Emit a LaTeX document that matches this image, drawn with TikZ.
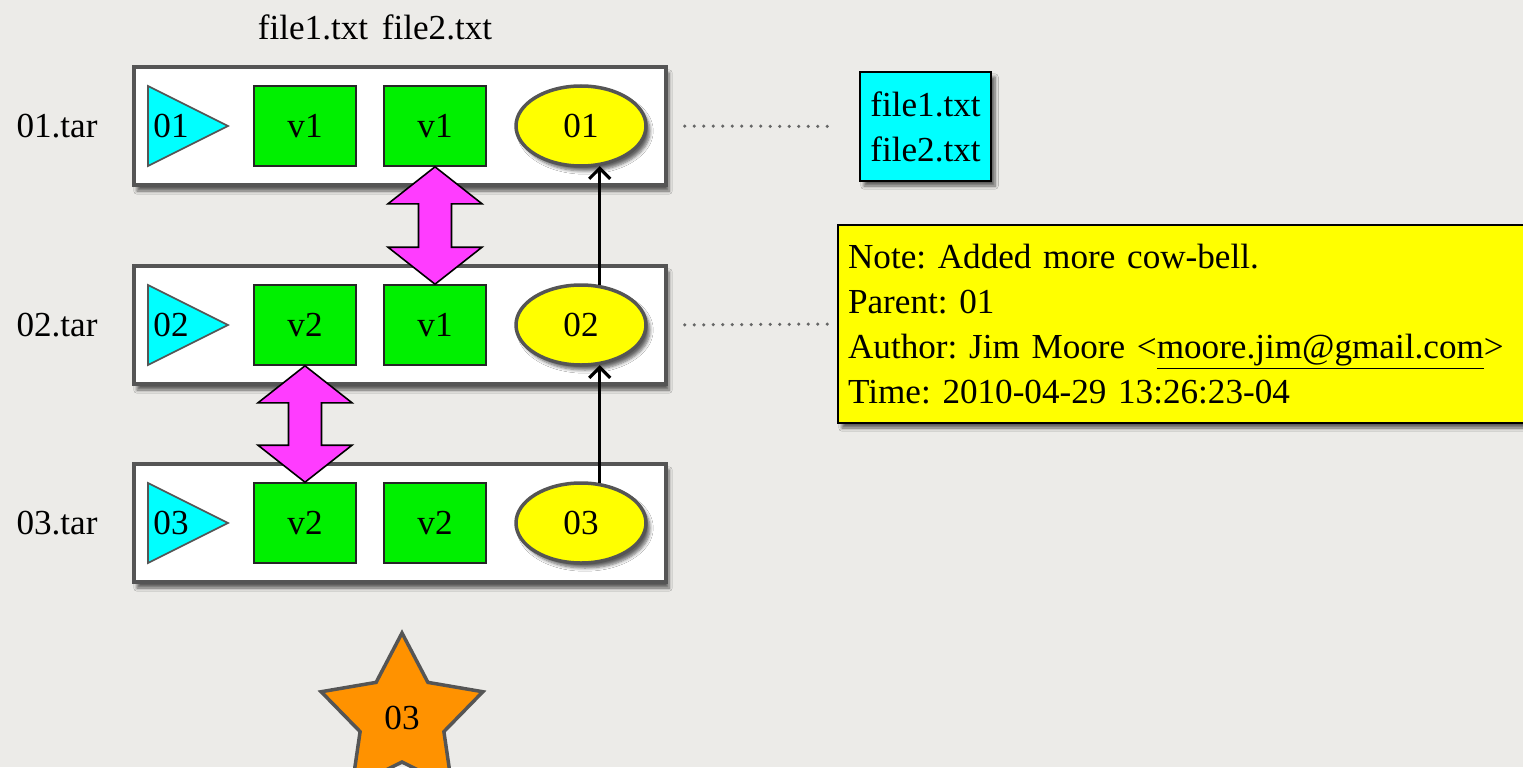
\documentclass[tikz,border=0pt]{standalone}
\usepackage{fontspec}
\setmainfont{Liberation Serif}
\usetikzlibrary{shapes.geometric,shadows.blur,arrows.meta,calc}
\definecolor{bgpaper}{RGB}{236,235,232}
\definecolor{edgegrey}{RGB}{85,85,85}
\definecolor{boxgreen}{RGB}{0,240,0}
\definecolor{tarcyan}{RGB}{0,255,255}
\definecolor{noteyellow}{RGB}{255,255,0}
\definecolor{swapmag}{RGB}{255,60,255}
\definecolor{starorange}{RGB}{255,146,0}
\def\pxu{0.02cm}
\frenchspacing
% magenta swap arrow from the box #1 down to the box #2
\newcommand\swaparrow[2]{%
 \filldraw[swap] (#1.south) -- ++(47,37) -- ++(-30.5,0) -- ($(#2.north)+(16.5,-37)$)
   -- ++(30.5,0) -- (#2.north) -- ++(-47,-37) -- ++(30.5,0)
   -- ($(#1.south)+(-16.5,37)$) -- ++(-30.5,0) -- cycle;}

\begin{document}
\begin{tikzpicture}[x=\pxu,y=-\pxu,font=\fontsize{20}{25.6}\selectfont,
 rowbox/.style={draw=edgegrey,line width=3.5*\pxu,fill=white,minimum width=532*\pxu,minimum height=118*\pxu,
   blur shadow={shadow xshift=3*\pxu,shadow yshift=-6*\pxu,shadow blur steps=6,shadow opacity=60}},
 filebox/.style={draw=black!85,line width=1.6*\pxu,fill=boxgreen,minimum width=102*\pxu,minimum height=80*\pxu,inner sep=0pt},
 commit/.style={ellipse,draw=edgegrey,line width=3.5*\pxu,fill=noteyellow,minimum width=130*\pxu,minimum height=80*\pxu,inner sep=0pt,
   blur shadow={shadow xshift=4*\pxu,shadow yshift=-5*\pxu,shadow blur steps=6,shadow opacity=60}},
 tarhead/.style={draw=edgegrey,line width=1.6*\pxu,fill=tarcyan},
 swap/.style={draw=black,line width=1.6*\pxu,fill=swapmag},
 parent/.style={line width=1.8pt,-{Straight Barb[length=6pt,width=12pt]}},
 link/.style={edgegrey!90,line width=0.07cm,dash pattern=on 0pt off 0.19cm,line cap=round},
 infobox/.style={draw=black,line width=1.6*\pxu,inner sep=0pt,
   blur shadow={shadow xshift=4*\pxu,shadow yshift=-5*\pxu,shadow blur steps=6,shadow opacity=60}}]
 \useasboundingbox (0,0) rectangle (1523,767);
 \fill[bgpaper] (0,0) rectangle (1523,767);
 % column titles
 \node (c1) at (313,27) {file1.txt};
 \node (c2) at (437,27) {file2.txt};
 % one row for each tar
 \foreach \i/\y/\a/\b in {1/126/v1/v1,2/325/v2/v1,3/523/v2/v2}{
  \node (l\i) at (57,\y) {0\i.tar};
  \node[rowbox] (r\i) at (400,\y) {};
  \filldraw[tarhead] (148,{\y-40}) -- (228,\y) -- (148,{\y+40}) -- cycle;
  \node (t\i) at (171,\y) {0\i};
  \node[filebox] (a\i) at (305,\y) {\a};
  \node[filebox] (b\i) at (435,\y) {\b};
  \node[commit] (e\i) at (581,\y) {0\i};
 }
 \swaparrow{b1}{b2}
 \swaparrow{a2}{a3}
 \draw[parent] (e2.65) -- (e1.-65);
 \draw[parent] (e3.65) -- (e2.-65);
 % contents and commit note
 \node[infobox,fill=tarcyan,minimum width=131*\pxu,minimum height=109*\pxu,align=center] (files) at (925.5,126.5)
   {file1.txt\\file2.txt};
 \node[infobox,fill=noteyellow,minimum width=686*\pxu,minimum height=198*\pxu,align=left,
   text width=13.32cm,inner xsep=0.2cm] (note) at (1181,324)
   {Note: Added more cow-bell.\\Parent: 01\\Author: Jim Moore <\underline{moore.jim@gmail.com}>\\Time: 2010-04-29 13:26:23-04};
 \draw[link,shorten <=0.34cm,shorten >=0.6cm] (r1.east) -- (files.west);
 \draw[link,shorten <=0.34cm,shorten >=0.16cm] (r2.east) -- (note.west);
 % tag
 \node[star,star points=5,star point ratio=1.93,minimum size=170*\pxu,draw=edgegrey,line width=3.5*\pxu,
   fill=starorange,inner sep=0pt] (tag) at (402,718) {03};
\end{tikzpicture}
\end{document}
